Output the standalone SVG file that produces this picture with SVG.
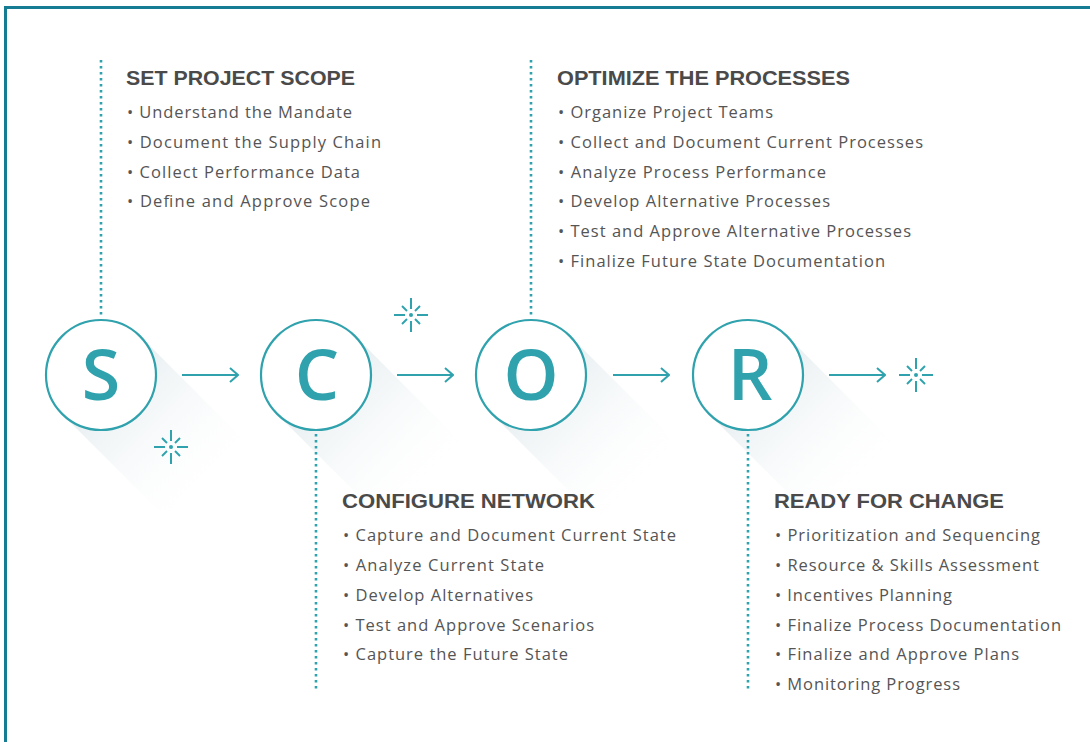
<svg xmlns="http://www.w3.org/2000/svg" width="1090" height="742" viewBox="0 0 1090 742">
<defs>
<style>
.frame{fill:none;stroke:#167c93;stroke-width:3}
.dot{stroke:#2fa2ad;stroke-width:2.6;stroke-dasharray:2.6 3.4;fill:none}
.ring{fill:#fff;stroke:#2fa2ad;stroke-width:2.2}
.letter{font-family:"Open Sans","Liberation Sans",sans-serif;font-weight:600;font-size:70px;fill:#2fa2ad;text-anchor:middle}
.head{font-family:"Liberation Sans","Open Sans",sans-serif;font-weight:bold;font-size:19.5px;fill:#4a4a4a}
.item{font-family:"Open Sans","Liberation Sans",sans-serif;font-size:16.5px;fill:#555}
.conn{stroke:#2fa2ad;stroke-width:2;fill:none}
.spark line{stroke:#2fa2ad;stroke-width:2;stroke-linecap:butt}
.spark circle{fill:#2fa2ad}
</style>
<linearGradient id="shade" x1="0" y1="0" x2="1" y2="1">
<stop offset="0.2" stop-color="#e3ebee"/>
<stop offset="0.85" stop-color="#ffffff" stop-opacity="0"/>
</linearGradient>
<marker id="chev" viewBox="0 0 10 16" refX="9" refY="8" markerWidth="10" markerHeight="16" markerUnits="userSpaceOnUse" orient="auto">
<path d="M1 1 L9 8 L1 15" fill="none" stroke="#2fa2ad" stroke-width="2"/>
</marker>
<g id="sp" class="spark">
<line x1="0" y1="-17" x2="0" y2="-6"/>
<line x1="0" y1="6" x2="0" y2="17"/>
<line x1="-17" y1="0" x2="-6" y2="0"/>
<line x1="6" y1="0" x2="17" y2="0"/>
<line x1="4" y1="-4" x2="9" y2="-9"/>
<line x1="-4" y1="-4" x2="-9" y2="-9"/>
<line x1="4" y1="4" x2="9" y2="9"/>
<line x1="-4" y1="4" x2="-9" y2="9"/>
<circle r="2"/>
</g>
</defs>
<rect width="1090" height="742" fill="#fff"/>
<path class="frame" d="M5.5 742 V7.5 H1090"/>

<g id="shadows">
<polygon points="140,336 62,414 168,520 246,442" fill="url(#shade)"/>
<polygon points="355,336 277,414 383,520 461,442" fill="url(#shade)"/>
<polygon points="570,336 492,414 598,520 676,442" fill="url(#shade)"/>
<polygon points="787,336 709,414 815,520 893,442" fill="url(#shade)"/>
</g>

<g id="connectors">
<line class="conn" x1="182" y1="375" x2="238" y2="375" marker-end="url(#chev)"/>
<line class="conn" x1="397" y1="375" x2="453" y2="375" marker-end="url(#chev)"/>
<line class="conn" x1="613" y1="375" x2="669" y2="375" marker-end="url(#chev)"/>
<line class="conn" x1="829" y1="375" x2="885" y2="375" marker-end="url(#chev)"/>
<line class="dot" x1="101" y1="60" x2="101" y2="318"/>
<line class="dot" x1="531" y1="60" x2="531" y2="318"/>
<line class="dot" x1="316" y1="434" x2="316" y2="690"/>
<line class="dot" x1="748" y1="434" x2="748" y2="690"/>
</g>

<g id="node-s">
<circle class="ring" cx="101" cy="375" r="55"/>
<text class="letter" x="101" y="400">S</text>
</g>
<g id="node-c">
<circle class="ring" cx="316" cy="375" r="55"/>
<text class="letter" x="317" y="400">C</text>
</g>
<g id="node-o">
<circle class="ring" cx="531" cy="375" r="55"/>
<text class="letter" x="531" y="400">O</text>
</g>
<g id="node-r">
<circle class="ring" cx="748" cy="375" r="55"/>
<text class="letter" x="750" y="400">R</text>
</g>

<g id="sparkles">
<use href="#sp" x="171" y="447"/>
<use href="#sp" x="411" y="315"/>
<use href="#sp" x="916" y="375"/>
</g>

<g id="set-project-scope">
<text class="head" x="126" y="85" textLength="229" lengthAdjust="spacingAndGlyphs">SET PROJECT SCOPE</text>
<text class="item" x="127" y="118" textLength="225">• Understand the Mandate</text>
<text class="item" x="127" y="148" textLength="254">• Document the Supply Chain</text>
<text class="item" x="127" y="178" textLength="233">• Collect Performance Data</text>
<text class="item" x="127" y="207" textLength="243">• Define and Approve Scope</text>
</g>

<g id="optimize-the-processes">
<text class="head" x="557" y="85" textLength="293" lengthAdjust="spacingAndGlyphs">OPTIMIZE THE PROCESSES</text>
<text class="item" x="558" y="118" textLength="215">• Organize Project Teams</text>
<text class="item" x="558" y="148" textLength="365">• Collect and Document Current Processes</text>
<text class="item" x="558" y="178" textLength="268">• Analyze Process Performance</text>
<text class="item" x="558" y="207" textLength="272">• Develop Alternative Processes</text>
<text class="item" x="558" y="237" textLength="353">• Test and Approve Alternative Processes</text>
<text class="item" x="558" y="267" textLength="327">• Finalize Future State Documentation</text>
</g>

<g id="configure-network">
<text class="head" x="342" y="508" textLength="253" lengthAdjust="spacingAndGlyphs">CONFIGURE NETWORK</text>
<text class="item" x="343" y="541" textLength="333">• Capture and Document Current State</text>
<text class="item" x="343" y="571" textLength="201">• Analyze Current State</text>
<text class="item" x="343" y="601" textLength="190">• Develop Alternatives</text>
<text class="item" x="343" y="631" textLength="251">• Test and Approve Scenarios</text>
<text class="item" x="343" y="660" textLength="225">• Capture the Future State</text>
</g>

<g id="ready-for-change">
<text class="head" x="774" y="508" textLength="230" lengthAdjust="spacingAndGlyphs">READY FOR CHANGE</text>
<text class="item" x="775" y="541" textLength="265">• Prioritization and Sequencing</text>
<text class="item" x="775" y="571" textLength="264">• Resource &amp; Skills Assessment</text>
<text class="item" x="775" y="601" textLength="177">• Incentives Planning</text>
<text class="item" x="775" y="631" textLength="286">• Finalize Process Documentation</text>
<text class="item" x="775" y="660" textLength="244">• Finalize and Approve Plans</text>
<text class="item" x="775" y="690" textLength="185">• Monitoring Progress</text>
</g>
</svg>
